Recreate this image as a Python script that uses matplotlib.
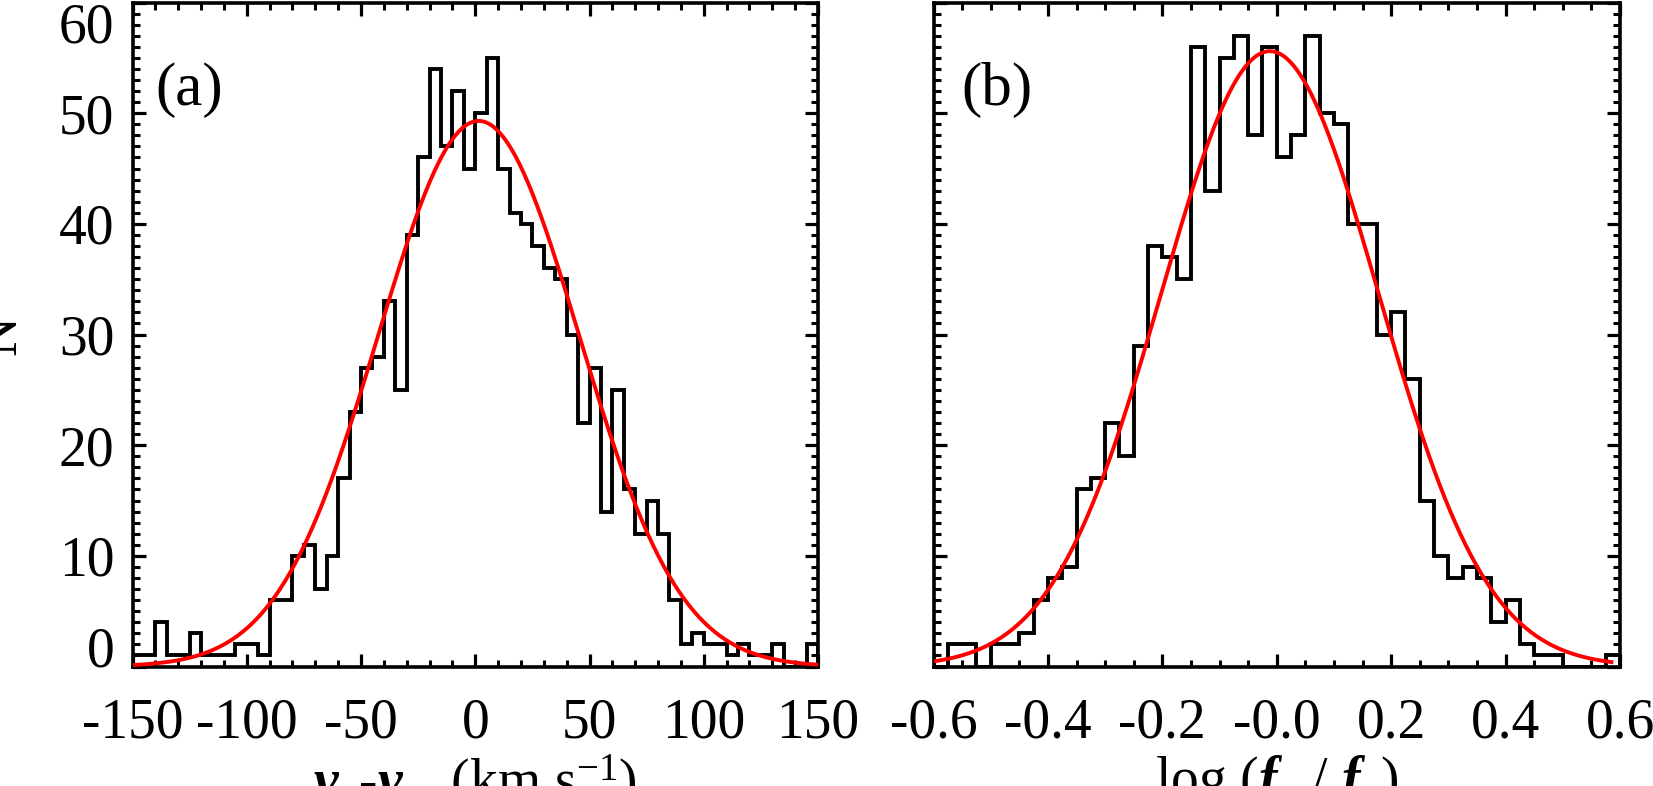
import numpy as np
import matplotlib
matplotlib.use("Agg")
import matplotlib.pyplot as plt
from matplotlib.ticker import MultipleLocator, FixedLocator, FixedFormatter

# 下标压低一点（IDL 风格），放不下就算了
try:
    import matplotlib._mathtext as _mt
    _mt.FontConstantsBase.sub1 = 0.8
except Exception:
    pass

# ---------- 数据 ----------
# (a) velocity difference histogram, 5 km/s bins
dv_edges_range = (-150, 150)
dv_counts = [1, 1, 4, 1, 1, 3, 1, 1, 1, 2,
             2, 1, 6, 6, 10, 11, 7, 10, 17, 23,
             27, 28, 33, 25, 39, 46, 54, 47, 52, 45,
             50, 55, 45, 41, 40, 38, 36, 35, 30, 22,
             27, 14, 25, 16, 12, 15, 12, 6, 2, 3,
             2, 2, 1, 2, 1, 1, 2, 0, 0, 2]
dv_fit_amp, dv_fit_mu, dv_fit_sigma = 49.3, 1.5, 44.0
dv_curve_range = (-150, 150)
dv_ticks = [-150, -100, -50, 0, 50, 100, 150]
dv_ticklabels = ["-150", "-100", "-50", "0", "50", "100", "150"]

# (b) log flux ratio histogram, 0.025 dex bins
lf_edges_range = (-0.6, 0.6)
lf_counts = [0, 2, 2, 0, 2, 2, 3, 6, 8, 9,
             16, 17, 22, 19, 29, 38, 37, 35, 56, 43,
             55, 57, 48, 56, 46, 48, 57, 50, 49, 40,
             40, 30, 32, 26, 15, 10, 8, 9, 8, 4,
             6, 2, 1, 1, 0, 0, 0, 1]
lf_fit_amp, lf_fit_mu, lf_fit_sigma = 55.6, -0.012, 0.19
lf_curve_range = (-0.6, 0.585)
lf_ticks = [-0.6, -0.4, -0.2, 0.0, 0.2, 0.4, 0.6]
lf_ticklabels = ["-0.6", "-0.4", "-0.2", "-0.0", "0.2", "0.4", "0.6"]

n_ticks = [0, 10, 20, 30, 40, 50, 60]

# ---------- 样式 ----------
plt.rcParams["font.family"] = "Liberation Serif"
plt.rcParams["mathtext.fontset"] = "custom"
plt.rcParams["mathtext.rm"] = "Liberation Serif"
plt.rcParams["mathtext.it"] = "Liberation Serif:italic"
plt.rcParams["mathtext.bf"] = "Liberation Serif:bold"
plt.rcParams["mathtext.bfit"] = "Liberation Serif:bold:italic"

FS = 40
W, H = 1653, 786
fig = plt.figure(figsize=(W / 100, H / 100), dpi=100)

bottom, top = 1 - 666.5 / H, 1 - 2.5 / H
ax_a = fig.add_axes([132.5 / W, bottom, (818 - 132.5) / W, top - bottom])
ax_b = fig.add_axes([933.5 / W, bottom, (1620 - 933.5) / W, top - bottom])


def gauss(x, a, mu, s):
    return a * np.exp(-0.5 * ((x - mu) / s) ** 2)


def panel(ax, counts, rng, fit, crng, ticks, ticklabels, minor, tag, tag_x):
    edges = np.linspace(rng[0], rng[1], len(counts) + 1)
    ax.stairs(counts, edges, baseline=0, color="black", lw=2.8, zorder=2)
    xx = np.linspace(crng[0], crng[1], 400)
    ax.plot(xx, gauss(xx, *fit), color="red", lw=2.8, zorder=3)

    ax.set_xlim(rng)
    ax.set_ylim(0, 60)
    ax.xaxis.set_major_locator(FixedLocator(ticks))
    ax.xaxis.set_major_formatter(FixedFormatter(ticklabels))
    ax.xaxis.set_minor_locator(MultipleLocator(minor))
    ax.yaxis.set_major_locator(FixedLocator(n_ticks))
    ax.yaxis.set_minor_locator(MultipleLocator(1))

    for s in ax.spines.values():
        s.set_linewidth(2.6)
    ax.tick_params(which="both", direction="in", top=True, right=True)
    ax.tick_params(which="major", length=9.7, width=2.3, labelsize=FS)
    ax.tick_params(which="minor", length=5, width=2.2)
    ax.tick_params(axis="x", which="major", pad=22)
    ax.tick_params(axis="y", which="major", pad=13)

    ax.text(tag_x, 0.846, tag, transform=ax.transAxes, fontsize=FS + 4,
            ha="left", va="baseline")


panel(ax_a, dv_counts, dv_edges_range, (dv_fit_amp, dv_fit_mu, dv_fit_sigma),
      dv_curve_range, dv_ticks, dv_ticklabels, 10, "(a)", 0.033)
panel(ax_b, lf_counts, lf_edges_range, (lf_fit_amp, lf_fit_mu, lf_fit_sigma),
      lf_curve_range, lf_ticks, lf_ticklabels, 0.05, "(b)", 0.041)

ax_a.set_yticklabels([str(v) for v in n_ticks])
ylabs = ax_a.get_yticklabels()
ylabs[0].set_va("baseline")
ylabs[-1].set_va("top")
ax_b.tick_params(axis="y", which="both", labelleft=False)

ax_a.set_xlabel(r"$\mathbfit{v}_{1}$-$\mathbfit{v}_{2}$  (km s$^{-1}$)", fontsize=FS)
ax_b.set_xlabel(r"log ($\mathbfit{f}_{1}$ / $\mathbfit{f}_{2}$)", fontsize=FS)
ax_a.xaxis.set_label_coords(0.5, -0.13)
ax_b.xaxis.set_label_coords(0.5, -0.13)

fig.text(15 / W, (bottom + top) / 2, "N", fontsize=FS, rotation=90,
         rotation_mode="anchor", ha="center", va="baseline")

fig.savefig("out.png", dpi=100)
